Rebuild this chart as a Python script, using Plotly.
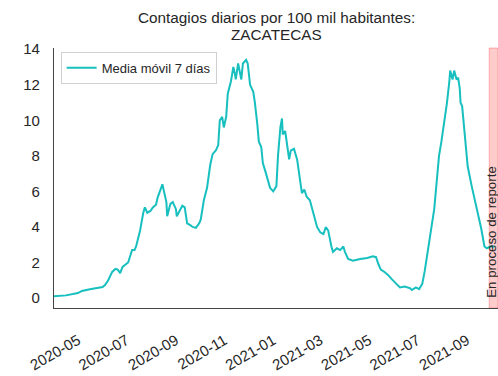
import plotly.graph_objects as go

# 7-day moving average of daily cases per 100k inhabitants, Zacatecas
dates = [
    "2020-04-01", "2020-04-16", "2020-05-01", "2020-05-06", "2020-05-16", "2020-05-25",
    "2020-06-01", "2020-06-04", "2020-06-08", "2020-06-13", "2020-06-17", "2020-06-20",
    "2020-06-23", "2020-06-26", "2020-06-29", "2020-07-03", "2020-07-08", "2020-07-11",
    "2020-07-13", "2020-07-18", "2020-07-22", "2020-07-24", "2020-07-27", "2020-07-31",
    "2020-08-03", "2020-08-07", "2020-08-09", "2020-08-15", "2020-08-17", "2020-08-20",
    "2020-08-21", "2020-08-25", "2020-08-28", "2020-09-01", "2020-09-02", "2020-09-06",
    "2020-09-09", "2020-09-12", "2020-09-15", "2020-09-19", "2020-09-22", "2020-09-26",
    "2020-09-30", "2020-10-02", "2020-10-06", "2020-10-10", "2020-10-14", "2020-10-17",
    "2020-10-21", "2020-10-24", "2020-10-26", "2020-10-29", "2020-10-31", "2020-11-03",
    "2020-11-05", "2020-11-09", "2020-11-12", "2020-11-14", "2020-11-15", "2020-11-18",
    "2020-11-22", "2020-11-24", "2020-11-28", "2020-11-30", "2020-12-03", "2020-12-07",
    "2020-12-09", "2020-12-12", "2020-12-14", "2020-12-17", "2020-12-19", "2020-12-23",
    "2020-12-28", "2021-01-01", "2021-01-05", "2021-01-07", "2021-01-10", "2021-01-12",
    "2021-01-13", "2021-01-16", "2021-01-18", "2021-01-21", "2021-01-23", "2021-01-27",
    "2021-01-31", "2021-02-04", "2021-02-06", "2021-02-09", "2021-02-12", "2021-02-16",
    "2021-02-19", "2021-02-22", "2021-02-25", "2021-03-01", "2021-03-05", "2021-03-08",
    "2021-03-11", "2021-03-15", "2021-03-17", "2021-03-22", "2021-03-26", "2021-03-30",
    "2021-04-01", "2021-04-05", "2021-04-11", "2021-04-20", "2021-04-29", "2021-05-06",
    "2021-05-10", "2021-05-13", "2021-05-16", "2021-05-21", "2021-05-25", "2021-05-30",
    "2021-06-04", "2021-06-09", "2021-06-15", "2021-06-22", "2021-06-24", "2021-06-29",
    "2021-07-03", "2021-07-07", "2021-07-10", "2021-07-14", "2021-07-18", "2021-07-22",
    "2021-07-26", "2021-07-28", "2021-07-31", "2021-08-02", "2021-08-05", "2021-08-07",
    "2021-08-10", "2021-08-11", "2021-08-14", "2021-08-16", "2021-08-19", "2021-08-21",
    "2021-08-23", "2021-08-24", "2021-08-26", "2021-08-30", "2021-09-02", "2021-09-07",
    "2021-09-11", "2021-09-15", "2021-09-19", "2021-09-23", "2021-09-26", "2021-09-30",
    "2021-10-06",
]
media_movil = [
    0.10, 0.15, 0.28, 0.40, 0.50, 0.55,
    0.62, 0.73, 1.00, 1.47, 1.64, 1.60,
    1.40, 1.75, 1.86, 2.00, 2.70, 2.70,
    2.90, 3.80, 4.80, 5.10, 4.80, 4.90,
    5.10, 5.25, 5.65, 6.40, 6.00, 5.40,
    4.60, 5.30, 5.40, 5.00, 4.60, 5.00,
    5.20, 5.10, 4.20, 4.10, 4.00, 3.95,
    4.20, 4.40, 5.50, 6.20, 7.50, 8.10,
    8.30, 8.60, 10.00, 10.20, 9.60, 10.20,
    11.50, 12.20, 13.00, 12.60, 12.30, 13.20,
    12.30, 13.20, 13.40, 13.20, 12.00, 11.60,
    11.00, 9.80, 8.80, 8.50, 7.60, 7.00,
    6.20, 6.00, 6.30, 8.00, 9.60, 10.10,
    9.20, 9.40, 8.80, 7.80, 8.30, 8.40,
    7.80, 6.30, 5.90, 6.10, 5.70, 5.50,
    5.00, 4.60, 4.00, 3.70, 3.60, 4.00,
    3.80, 2.90, 2.60, 2.80, 2.70, 2.90,
    2.60, 2.20, 2.10, 2.20, 2.25, 2.35,
    2.30, 1.90, 1.60, 1.45, 1.30, 1.05,
    0.80, 0.60, 0.65, 0.55, 0.45, 0.60,
    0.50, 0.80, 1.50, 2.60, 3.80, 5.00,
    7.00, 8.00, 8.80, 9.40, 10.40, 11.00,
    12.20, 12.80, 12.30, 12.80, 12.30, 12.40,
    11.80, 11.00, 10.80, 9.00, 7.40, 6.30,
    5.50, 4.70, 3.90, 2.90, 2.80, 2.90,
    2.90,
]

reporting_start = "2021-09-29"
x_range = ["2020-04-01", "2021-10-10"]
y_range = [-0.56, 14.07]
y_ticks = [0, 2, 4, 6, 8, 10, 12, 14]
x_ticks = ["2020-05-01", "2020-07-01", "2020-09-01", "2020-11-01", "2021-01-01",
           "2021-03-01", "2021-05-01", "2021-07-01", "2021-09-01"]
x_ticklabels = ["2020-05", "2020-07", "2020-09", "2020-11", "2021-01",
                "2021-03", "2021-05", "2021-07", "2021-09"]
title_lines = ["Contagios diarios por 100 mil habitantes:", "ZACATECAS"]

FONT = "Liberation Sans, Arial, sans-serif"
TEXT = "#262626"

fig = go.Figure()

# Shaded window for the most recent, still incomplete data
fig.add_shape(
    type="rect", xref="x", yref="paper",
    x0=reporting_start, x1=x_range[1], y0=0, y1=1,
    fillcolor="rgba(255,0,0,0.2)", line=dict(color="rgba(255,0,0,0.25)", width=1),
    layer="below",
)

fig.add_trace(go.Scatter(
    x=dates, y=media_movil, mode="lines",
    name="Media móvil 7 días",
    line=dict(color="#17BFBF", width=2),
))

fig.add_annotation(
    x="2021-10-02", y=-0.12, xref="x", yref="y",
    text="En proceso de reporte", textangle=-90, showarrow=False,
    xanchor="center", yanchor="bottom",
    font=dict(family=FONT, size=13.3, color=TEXT),
)

# Two-line title, placed line by line for tight spacing
for line_text, y_pos in zip(title_lines, [1.116, 1.052]):
    fig.add_annotation(
        x=0.5, y=y_pos, xref="paper", yref="paper",
        text=line_text, showarrow=False,
        xanchor="center", yanchor="middle", borderpad=0,
        font=dict(family=FONT, size=15.3, color=TEXT),
    )

fig.update_layout(
    width=498, height=376,
    margin=dict(l=54, r=0, t=48, b=68),
    paper_bgcolor="white", plot_bgcolor="white",
    font=dict(family=FONT, color=TEXT),
    showlegend=True,
    legend=dict(
        x=0.015, y=0.985, xanchor="left", yanchor="top",
        bgcolor="white", bordercolor="#d0d0d0", borderwidth=1,
        font=dict(family=FONT, size=13, color=TEXT),
        itemwidth=30,
    ),
)

fig.update_xaxes(
    type="date", range=x_range,
    tickvals=x_ticks, ticktext=x_ticklabels, tickangle=-30,
    tickfont=dict(family=FONT, size=15, color=TEXT),
    showgrid=False, zeroline=False,
    showline=True, linecolor="#444444", linewidth=1.3,
    ticks="", ticklabelstandoff=17,
)
fig.update_yaxes(
    range=y_range, tickvals=y_ticks,
    tickfont=dict(family=FONT, size=15, color=TEXT),
    showgrid=False, zeroline=False,
    showline=True, linecolor="#444444", linewidth=1.3,
    ticks="", ticklabelstandoff=10,
)

fig.write_html("out.html")
